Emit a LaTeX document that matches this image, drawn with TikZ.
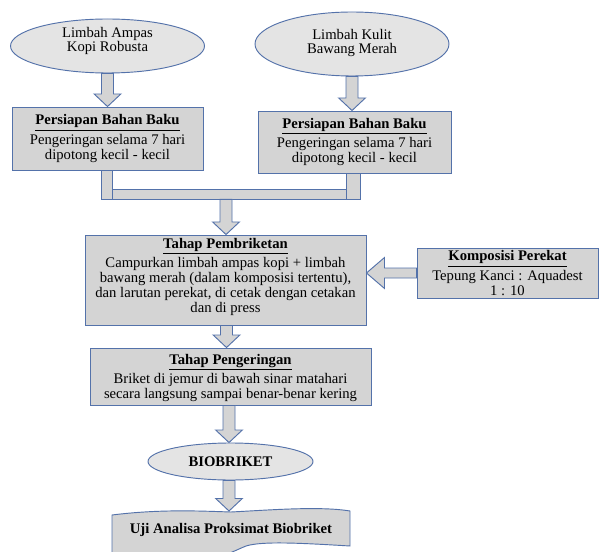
\documentclass[tikz,border=0pt]{standalone}
\usepackage{fontspec}
\setmainfont{Liberation Serif}
\usetikzlibrary{shapes.geometric,calc}
\definecolor{bord}{RGB}{84,114,170}
\definecolor{boxfill}{RGB}{212,212,212}
\definecolor{ellfill}{RGB}{228,228,228}
\tikzset{
  every node/.style={font=\fontsize{11}{11.2}\selectfont},
  boxnode/.style={draw=bord, fill=boxfill, line width=0.7pt, rectangle, inner sep=0pt, align=center},
  ellnode/.style={draw=bord, fill=ellfill, line width=0.7pt, ellipse, inner sep=0pt},
  txt/.style={align=center, inner sep=0pt},
  barrow/.style={draw=bord, fill=boxfill, line width=0.7pt, line join=miter},
}
\newcommand\dnblock[2]{\draw[barrow] let \p1=(#1), \p2=(#2) in
  (\x1-4.5pt,\y1) -- (\x1-4.5pt,\y2+9.4pt) -- (\x1-10pt,\y2+9.4pt) -- (\x1,\y2)
  -- (\x1+10pt,\y2+9.4pt) -- (\x1+4.5pt,\y2+9.4pt) -- (\x1+4.5pt,\y1) -- cycle;}
\newcommand\ttl[1]{\textbf{\underline{#1}}\\[1.6pt]}
\begin{document}
\begin{tikzpicture}[x=0.75pt,y=-0.75pt]
\useasboundingbox (0,0) rectangle (599,552);
\clip (0,0) rectangle (599,552);
\fill[white] (0,0) rectangle (599,552);

% source ellipses
\node[ellnode, minimum width={194*0.75pt}, minimum height={54*0.75pt}] (e1) at (107.5,46) {};
\node[txt] (e1t) at (107.5,41) {Limbah Ampas\\Kopi Robusta};
\node[ellnode, minimum width={194*0.75pt}, minimum height={64*0.75pt}] (e2) at (352,44) {};
\node[txt] (e2t) at (352,43) {Limbah Kulit\\Bawang Merah};

% preparation boxes
\node[boxnode, minimum width={191*0.75pt}, minimum height={63*0.75pt}] (b1) at (107.5,138.5)
  {\ttl{Persiapan Bahan Baku}Pengeringan selama 7 hari\\dipotong kecil - kecil};
\node[boxnode, minimum width={193*0.75pt}, minimum height={62*0.75pt}] (b2) at (354.5,142)
  {\ttl{Persiapan Bahan Baku}Pengeringan selama 7 hari\\dipotong kecil - kecil};

\dnblock{e1.south}{b1.north}
\dnblock{e2.south}{b2.north}

% joining pipe
\draw[barrow] (101,170) rectangle (112,199);
\draw[barrow] (346,173) rectangle (360,199);
\node[boxnode, minimum width={234*0.75pt}, minimum height={10*0.75pt}] (bar) at (229,194) {};

% briquetting
\node[boxnode, minimum width={281*0.75pt}, minimum height={90*0.75pt}] (b3) at (225.5,280) {};
\node[txt] (b3t) at (225.5,277)
  {\ttl{Tahap Pembriketan}Campurkan limbah ampas kopi + limbah\\bawang merah (dalam komposisi tertentu),\\dan larutan perekat, di cetak dengan cetakan\\dan di press};
\dnblock{$(bar.south)+(-3,0)$}{b3.north}

% binder
\node[boxnode, minimum width={181*0.75pt}, minimum height={50*0.75pt}] (b4) at (507.5,273)
  {\ttl{Komposisi Perekat}Tepung Kanci : Aquadest\\1 : 10};
\draw[barrow] let \p1=(b4.west), \p2=(b3.east) in
  (\x1,\y1+3.75pt) -- (\x2+13.5pt,\y1+3.75pt) -- (\x2+13.5pt,\y1+11.6pt) -- (\x2,\y1)
  -- (\x2+13.5pt,\y1-11.6pt) -- (\x2+13.5pt,\y1-3.75pt) -- (\x1,\y1-3.75pt) -- cycle;

% drying
\node[boxnode, minimum width={281*0.75pt}, minimum height={57*0.75pt}] (b5) at (230.5,376.5) {};
\node[txt] (b5t) at (230.5,378)
  {\ttl{Tahap Pengeringan}Briket di jemur di bawah sinar matahari\\secara langsung sampai benar-benar kering};
\dnblock{$(b3.south)+(1,0)$}{$(b5.north)+(-4,0)$}

% product
\node[ellnode, minimum width={165*0.75pt}, minimum height={37*0.75pt}] (bio) at (230.5,461.5) {\textbf{BIOBRIKET}};
\dnblock{$(b5.south)+(-1.5,0)$}{$(bio.north)+(-1.5,0)$}

% analysis (wave shape)
\draw[barrow] (112,515) .. controls (160,509) and (200,511) .. (231,512)
  .. controls (270,510) and (320,506) .. (350,511)
  -- (350,546) .. controls (300,543) and (262,541) .. (246,546)
  .. controls (236,550) and (224,557) .. (200,562)
  -- (112,570) -- cycle;
\coordinate (ujitop) at (229,511);
\node[txt] (uji) at (231,530) {\textbf{Uji Analisa Proksimat Biobriket}};
\dnblock{$(bio.south)+(-1.5,0)$}{ujitop}
\end{tikzpicture}
\end{document}
